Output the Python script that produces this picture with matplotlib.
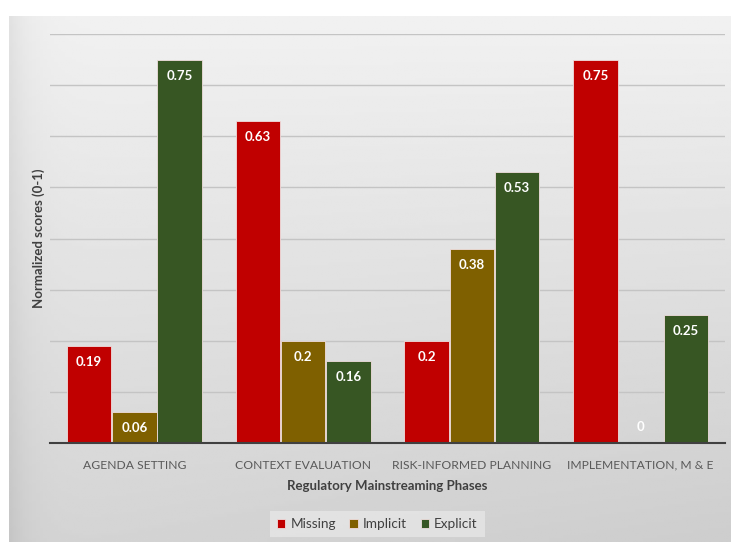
"""Normalized scores per regulatory mainstreaming phase."""

import matplotlib.pyplot as plt
import numpy as np

phases = ["AGENDA SETTING", "CONTEXT EVALUATION", "RISK-INFORMED PLANNING", "IMPLEMENTATION, M & E"]
series_names = ["Missing", "Implicit", "Explicit"]
missing = [0.19, 0.63, 0.2, 0.75]
implicit = [0.06, 0.2, 0.38, 0.0]
explicit = [0.75, 0.16, 0.53, 0.25]
colors = ["#c00000", "#7f6000", "#375623"]

plt.rcParams["font.family"] = ["Lato", "DejaVu Sans"]

fig = plt.figure(figsize=(7.31, 5.42), dpi=100)
fig.patch.set_facecolor("white")

# grey gradient panel behind the chart
bg = fig.add_axes([9 / 731, 0, 1 - 9 / 731, 1 - 16 / 542])
yy, xx = np.mgrid[0:1:200j, 0:1:200j]
shade = 0.945 - 0.11 * yy - 0.03 * xx * yy - 0.06 * np.exp(-xx * 40)
bg.imshow(shade, cmap="gray", vmin=0, vmax=1, aspect="auto", extent=[0, 1, 0, 1], origin="upper")
bg.axis("off")

ax = fig.add_axes([50 / 731, 1 - 443 / 542, 675 / 731, (443 - 34) / 542])
ax.set_facecolor("none")

x = np.arange(len(phases))
width = 0.268
for i, (name, vals) in enumerate(zip(series_names, [missing, implicit, explicit])):
    pos = x + (i - 1) * width
    bars = ax.bar(pos, vals, width * 0.98, color=colors[i], label=name,
                  edgecolor="#f0dede", linewidth=0.6, zorder=3)
    for b, v in zip(bars, vals):
        off = -11.5 if v > 0 else 11.5
        ax.annotate(f"{v:g}", (b.get_x() + b.get_width() / 2, v), xytext=(0, off),
                    textcoords="offset points", ha="center", va="center",
                    color="white", fontsize=9.5, fontweight="bold", zorder=4)

ax.set_xlim(-0.5, 3.5)
ax.set_ylim(0, 0.8)
ax.set_yticks(np.arange(0, 0.81, 0.1))
ax.set_yticklabels([])
ax.tick_params(axis="y", length=0)
ax.tick_params(axis="x", length=0, pad=12, labelsize=8.7, labelcolor="#595959")
ax.set_xticks(x)
ax.set_xticklabels(phases)
ax.grid(axis="y", color="#c4c4c4", linewidth=1, zorder=0)
for s in ["top", "right", "left"]:
    ax.spines[s].set_visible(False)
ax.spines["bottom"].set_color("#404040")
ax.spines["bottom"].set_linewidth(1.5)
ax.spines["bottom"].set_zorder(5)

ax.set_xlabel("Regulatory Mainstreaming Phases", fontsize=9.5, fontweight="bold",
              color="#404040", labelpad=7)
ax.set_ylabel("Normalized scores (0-1)", fontsize=9.5, fontweight="bold",
              color="#404040", labelpad=0)

leg = fig.legend(loc="center", bbox_to_anchor=(0.516, 0.033), ncol=3, frameon=True,
                 fontsize=9.8, handlelength=0.6, handleheight=0.6, handletextpad=0.4,
                 columnspacing=1.0, borderpad=0.5)
leg.get_frame().set_facecolor("#e6e6e6")
leg.get_frame().set_edgecolor("none")
leg.get_frame().set_boxstyle("square", pad=0)
for t in leg.get_texts():
    t.set_color("#404040")

fig.savefig("out.png", dpi=100)
